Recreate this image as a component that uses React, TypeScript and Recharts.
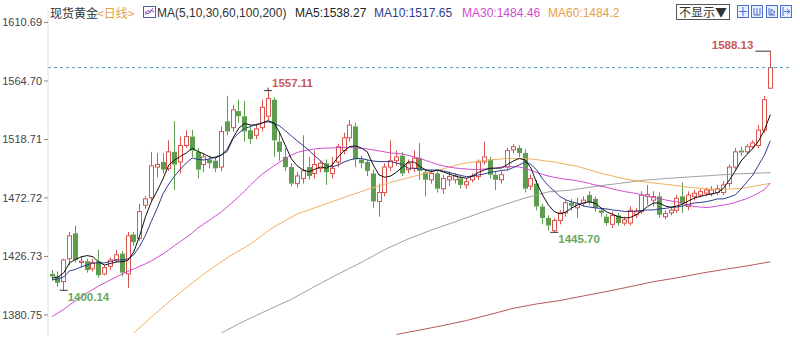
import React from "react";
import { ComposedChart, Bar, Line, XAxis, YAxis, ReferenceLine, ReferenceDot } from "recharts";

// 日线 K 线
const OPEN = [
  1413, 1411, 1407, 1425, 1445, 1422, 1423, 1417, 1423, 1413, 1419, 1424, 1429, 1413, 1444, 1441, 1467, 1473, 1497, 1501,
  1496, 1509, 1501, 1514, 1521, 1509, 1499, 1503, 1502, 1497, 1533, 1528, 1541, 1537, 1526, 1522, 1528, 1537, 1550, 1517,
  1505, 1497, 1484, 1488, 1497, 1492, 1496, 1500, 1492, 1501, 1510, 1520, 1529, 1503, 1501, 1492, 1470, 1477, 1497, 1502,
  1506, 1495, 1496, 1504, 1493, 1487, 1492, 1480, 1487, 1487, 1488, 1483, 1487, 1489.5, 1501, 1503, 1491, 1487, 1497, 1510.5,
  1512, 1508, 1482, 1484, 1466, 1457, 1447, 1455, 1461, 1469, 1465, 1468.5, 1475, 1472, 1463, 1458, 1452, 1459, 1453, 1453,
  1459.5, 1462, 1474, 1471, 1474, 1458, 1461, 1463, 1474, 1466, 1474, 1475, 1476.5, 1476, 1477, 1477, 1484, 1497, 1510, 1509,
  1513, 1514, 1526, 1559,
];
const HIGH = [
  1416, 1415, 1425, 1446, 1451, 1427, 1425, 1425, 1432, 1420, 1426, 1432, 1431, 1446, 1446, 1468, 1474, 1509, 1508, 1508,
  1518, 1533, 1521, 1526, 1526, 1512, 1508, 1506, 1505, 1529, 1553, 1546, 1550, 1549, 1530, 1531, 1550, 1557.11, 1552, 1525,
  1512, 1500, 1493, 1522, 1505, 1510, 1502, 1503, 1505, 1515, 1524, 1534, 1532, 1506, 1503, 1495, 1484, 1500, 1518, 1510,
  1509, 1503, 1510, 1516, 1495, 1495, 1494, 1491, 1493.5, 1492, 1490, 1488, 1492, 1503, 1517, 1505, 1493, 1494, 1512, 1515,
  1514, 1511, 1491, 1487, 1468, 1459, 1457, 1463, 1471, 1472, 1473, 1474, 1478, 1474, 1465, 1460, 1462, 1461, 1458, 1466,
  1465, 1478, 1483, 1478, 1477, 1463, 1466, 1475, 1485, 1478, 1479, 1480, 1481, 1482, 1483, 1486, 1499, 1512, 1513, 1515,
  1518, 1530, 1553, 1588.13,
];
const LOW = [
  1408, 1403, 1400.14, 1420, 1422, 1418, 1414, 1415, 1410, 1412, 1416, 1422, 1411, 1402, 1435, 1439, 1464, 1470, 1489, 1492,
  1494, 1479, 1492, 1512, 1505, 1488, 1493, 1496, 1493, 1494, 1522, 1525, 1532, 1517, 1515, 1519, 1525, 1534, 1505, 1502,
  1494, 1482, 1481, 1484, 1487, 1488, 1493, 1483, 1488, 1497, 1507, 1517, 1497, 1496, 1490, 1465, 1458, 1474, 1494, 1498,
  1490, 1492, 1493, 1487, 1474, 1484, 1477, 1476, 1482, 1484, 1480, 1480, 1485, 1487, 1499, 1488, 1479, 1484, 1495, 1508,
  1505, 1477, 1479, 1463, 1452, 1447, 1445.7, 1452, 1458, 1463, 1457, 1466, 1467, 1462, 1458, 1451, 1449, 1451, 1451, 1451,
  1457, 1460, 1467, 1466, 1457, 1456, 1459, 1461, 1461, 1463, 1471, 1473, 1474, 1474, 1475, 1475, 1481, 1495, 1506, 1507,
  1511, 1512, 1524, 1558.5,
];
const CLOSE = [
  1411, 1406, 1424, 1443, 1424, 1423, 1416, 1422, 1412, 1418, 1424, 1428, 1414, 1443, 1438, 1462, 1472, 1498, 1499, 1495,
  1509, 1499, 1514, 1521, 1510, 1495, 1505, 1500, 1496, 1525, 1525, 1542, 1537, 1525, 1519, 1527, 1544, 1551, 1518, 1509,
  1497, 1484, 1490, 1494, 1490, 1499, 1500, 1493, 1496, 1513, 1520, 1530, 1503, 1500, 1494, 1470, 1477, 1497, 1502, 1505,
  1492, 1500, 1504, 1494, 1487, 1492, 1480, 1488, 1489.5, 1490, 1483, 1485.5, 1489.5, 1501, 1505, 1491, 1487, 1491, 1510, 1513,
  1508, 1480, 1488, 1466, 1457, 1451, 1455, 1461, 1469, 1466.5, 1468, 1471, 1469, 1465, 1461, 1453, 1459, 1453, 1455.5, 1463,
  1462, 1475, 1475.5, 1473.8, 1459.5, 1460.5, 1463.3, 1472.5, 1468.5, 1475, 1476.4, 1477.7, 1479, 1479, 1480, 1483, 1497, 1509, 1508.5, 1513,
  1516, 1526, 1550, 1575.2,
];

const MA5 = [
  1409.7, 1410.6, 1413.8, 1421.7, 1424.4, 1426.4, 1427.4, 1426.6, 1422.4, 1420, 1421.2, 1422.4, 1422.6, 1423.6, 1430.3, 1442.9,
  1457.8, 1469.6, 1478.2, 1487.7, 1498.7, 1502.6, 1505.4, 1508.1, 1511.7, 1509.3, 1507.3, 1505, 1504.2, 1506.5, 1510.9,
  1519.9, 1527.7, 1531.3, 1530.1, 1530.1, 1531.7, 1533.5, 1531.7, 1523.8, 1513.6, 1503.4, 1497.9, 1494.7, 1493.4, 1495.3,
  1497.1, 1496.1, 1498.7, 1505, 1509.7, 1513.2, 1513.6, 1512, 1508.9, 1498.7, 1490.8, 1489, 1490, 1493, 1497,
  1501, 1501, 1497.5, 1494.7, 1493.4, 1494.7, 1493.2, 1491.6, 1490, 1488.9, 1488.2, 1490, 1492.8, 1494.7, 1496.1,
  1496.1, 1496.3, 1499.1, 1501.8, 1503.8, 1502.6, 1496.3, 1484.5, 1475.1, 1467.2, 1462, 1460.2, 1461.7, 1464.9, 1467.2,
  1468.8, 1469.8, 1468.6, 1464.9, 1461.7, 1459.8, 1458, 1457, 1457.4, 1459.4, 1462.5, 1466, 1468.8, 1468.8, 1466.4, 1465.4,
  1466.4, 1468, 1470.4, 1472.7, 1473.9, 1475.1, 1475.9, 1477, 1480.5, 1486.9, 1493.9, 1501.8, 1506.9, 1511.6, 1517.5, 1526.2,
  1538.27,
];
const MA10 = [
  1408.3, 1409.1, 1410.6, 1415.4, 1416.5, 1418.5, 1420.1, 1421.4, 1421.7, 1421.7, 1422.8, 1424, 1424, 1424.8, 1428, 1434.6,
  1443.3, 1454.3, 1464.5, 1475.9, 1483.7, 1490, 1495.5, 1500.2, 1504.2, 1503, 1502.6, 1503.4, 1505, 1506.5, 1509.3,
  1519.4, 1523.8, 1527.4, 1528.9, 1530.5, 1531.7, 1532.7, 1531.3, 1529.3, 1525.4, 1521.5, 1517.5, 1514, 1510.1, 1505.7,
  1501.8, 1497.9, 1497.1, 1498.7, 1501, 1502.6, 1503.8, 1503.8, 1502.6, 1501.8, 1501.3, 1501.3, 1501.3, 1500.2, 1499.1,
  1496.1, 1496.1, 1495.5, 1494.7, 1494.7, 1494.7, 1493.9, 1492.8, 1491.6, 1490.4, 1489.5, 1490, 1490.8, 1491.6, 1492.8,
  1493.6, 1494.4, 1494.7, 1496.7, 1498.7, 1501, 1499.1, 1494.7, 1487.7, 1482.2, 1478.2, 1473.8, 1471.2, 1469.6, 1468.6,
  1466.4, 1465.6, 1464.9, 1464.5, 1464.1, 1463.3, 1462.9, 1462.1, 1462.1, 1462.5, 1462.9, 1463.3, 1463.3, 1464.1, 1464.5,
  1465.3, 1465.6, 1466.4, 1467.6, 1468.8, 1469.2, 1469.8, 1470.8, 1472, 1472, 1473.5, 1475.1, 1479.8, 1485.3, 1490.8,
  1498.7, 1506.5, 1517.65,
];
const MA30 = [
  1379.4, 1382.3, 1385.1, 1388.6, 1391.8, 1394.9, 1398.1, 1400.8, 1403.6, 1405.9, 1408.3, 1410.6, 1413, 1415, 1416.9, 1418.9,
  1420.9, 1423.2, 1426, 1428.7, 1431.9, 1435.4, 1438.5, 1441.7, 1445.2, 1449.2, 1452.3, 1455.4, 1458.6, 1461.7, 1465.7,
  1469.6, 1473.9, 1478.2, 1483, 1487.3, 1491.6, 1494.7, 1497.9, 1501, 1503.8, 1506.5, 1508.5, 1509.7, 1510.5, 1511.3,
  1511.7, 1512, 1512, 1512.4, 1512.4, 1512.4, 1512, 1511.7, 1511.3, 1510.5, 1509.7, 1508.9, 1508.1, 1507.7, 1507.3,
  1506.2, 1505, 1503.9, 1502.2, 1500.6, 1499.1, 1497.9, 1497.1, 1496.3, 1495.9, 1495.5, 1495.1, 1495.1, 1495.5, 1495.9,
  1496.3, 1497.1, 1497.4, 1497.4, 1497.1, 1495.9, 1494.4, 1492.8, 1491.2, 1490, 1488.9, 1488.1, 1487.4, 1486.9, 1486.1,
  1485.3, 1484.1, 1483, 1481.9, 1481, 1479.8, 1478.8, 1477.8, 1477, 1476.3, 1475.1, 1473.9, 1473.1, 1472.3, 1471.2, 1470.4,
  1469.6, 1468.4, 1467.2, 1466, 1465.6, 1465.2, 1465.6, 1466.4, 1467.2, 1468, 1469.2, 1470.8, 1472.3, 1474.3, 1476.7, 1479.4,
  1484.46,
];
// 长周期均线，按 K 线序号取点
const MA60_AT = [14, 18, 22, 26, 30, 34, 38, 42, 46, 50, 54, 58, 62, 66, 70, 74, 78, 82, 86, 90, 94, 98, 102, 106, 110, 114, 118, 123];
const MA60 = [
  1366.6, 1383.1, 1398.6, 1413, 1425.7, 1436.6, 1450, 1460.2, 1466.6, 1473.1, 1479.4, 1485, 1489.8, 1494.4, 1499.5, 1502.2,
  1503.8, 1503.4, 1501, 1497.5, 1492.2, 1487.7, 1485, 1483, 1480.6, 1479.4, 1480.2, 1484.2,
];
const MA100_AT = [29, 33, 37, 41, 45, 49, 53, 57, 61, 65, 69, 73, 77, 81, 85, 89, 93, 97, 101, 105, 109, 113, 117, 123];
const MA100 = [
  1366.6, 1376.1, 1384.7, 1393.1, 1403.2, 1412.9, 1422.1, 1432.2, 1440.5, 1447.6, 1453.9, 1460.5, 1466.8, 1472.7, 1477.5,
  1479, 1481.8, 1484.1, 1486.5, 1488, 1489.2, 1490.4, 1491.6, 1492.6,
];
const MA200_AT = [59, 63, 67, 71, 75, 79, 83, 87, 91, 95, 99, 103, 107, 111, 115, 119, 123];
const MA200 = [
  1365.4, 1368.9, 1372.5, 1376.4, 1381.1, 1386, 1389.4, 1392.1, 1395.7, 1399.2, 1403, 1406.9, 1409.9, 1413.4, 1416.5, 1419.3,
  1422.6,
];

const Y_TICKS = [1380.75, 1426.73, 1472.72, 1518.71, 1564.7, 1610.69];
const LAST_PRICE = 1575.2;
const MARKS = [
  { i: 2, price: 1400.14, kind: "low" },
  { i: 37, price: 1557.11, kind: "high" },
  { i: 86, price: 1445.7, kind: "low" },
  { i: 123, price: 1588.13, kind: "top" },
];

const RED = "#d9534f";
const GREEN = "#5c9e4e";
const LATIN = "'Liberation Sans', Arial, sans-serif";
const CJK = "'Noto Sans CJK SC', sans-serif";

const pick = (at: number[], vals: number[], i: number) => {
  const k = at.indexOf(i);
  return k < 0 ? null : vals[k];
};

const rows = CLOSE.map((close, i) => ({
  i,
  open: OPEN[i],
  high: HIGH[i],
  low: LOW[i],
  close,
  range: [LOW[i], HIGH[i]],
  ma5: MA5[i],
  ma10: MA10[i],
  ma30: MA30[i],
  ma60: pick(MA60_AT, MA60, i),
  ma100: pick(MA100_AT, MA100, i),
  ma200: pick(MA200_AT, MA200, i),
}));

function Candle(props: any) {
  const { x, y, width, height, payload } = props;
  if (x == null || !payload) return null;
  const top = Math.min(y, y + height);
  const h = Math.abs(height);
  const { open, close, high, low } = payload;
  const k = h / (high - low || 1);
  const cx = Math.floor(x + width / 2) + 0.5;
  const yO = top + (high - open) * k;
  const yC = top + (high - close) * k;
  const up = close >= open;
  const bTop = Math.min(yO, yC);
  const bBot = Math.max(yO, yC);
  const color = up ? RED : GREEN;
  return (
    <g>
      <line x1={cx} x2={cx} y1={top} y2={bTop} stroke={color} />
      <line x1={cx} x2={cx} y1={bBot} y2={top + h} stroke={color} />
      {up ? (
        <rect x={cx - 2} y={bTop} width={4} height={Math.max(bBot - bTop, 1)} fill="#fff" stroke={color} />
      ) : (
        <rect x={cx - 2.5} y={bTop} width={5} height={Math.max(bBot - bTop, 1)} fill={color} />
      )}
    </g>
  );
}

function Mark(props: any) {
  const { cx, cy, kind, price } = props;
  if (cx == null) return null;
  const label = price.toFixed(2);
  const txt = { fontFamily: LATIN, fontSize: 11.5, fontWeight: 700 } as const;
  if (kind === "top") {
    return (
      <g>
        <line x1={cx - 15} x2={cx + 0.5} y1={cy} y2={cy} stroke="#333" />
        <text x={cx - 17} y={cy - 2} textAnchor="end" fill="#c85a5a" style={txt}>{label}</text>
      </g>
    );
  }
  if (kind === "high") {
    return (
      <g>
        <line x1={cx - 4} x2={cx + 4} y1={cy} y2={cy} stroke="#333" />
        <line x1={cx} x2={cx} y1={cy - 3} y2={cy} stroke="#333" />
        <text x={cx + 4} y={cy - 4} fill="#c85a5a" style={txt}>{label}</text>
      </g>
    );
  }
  return (
    <g>
      <line x1={cx - 4} x2={cx + 4} y1={cy} y2={cy} stroke="#333" />
      <text x={cx + 4} y={cy + 11} fill="#6aa85e" style={txt}>{label}</text>
    </g>
  );
}

function Header() {
  const base: React.CSSProperties = { position: "absolute", top: 5, fontSize: 12, lineHeight: "16px", whiteSpace: "nowrap" };
  const icon = (left: number, glyph: React.ReactNode) => (
    <svg style={{ position: "absolute", left, top: 5 }} width={12} height={13}>
      <rect x={0.5} y={0.5} width={11} height={12} fill="#e9efff" stroke="#4a6fd0" />
      {glyph}
    </svg>
  );
  return (
    <>
      <span style={{ ...base, left: 50, fontFamily: CJK, color: "#333" }}>现货黄金</span>
      <span style={{ ...base, left: 97, fontFamily: CJK, color: "#e8a040" }}>&lt;日线&gt;</span>
      <svg style={{ position: "absolute", left: 143, top: 6 }} width={13} height={12}>
        <rect x={0.5} y={0.5} width={12} height={11} fill="#fff" stroke="#5060a8" />
        <polyline points="2,9 5,4 7,7 10,2" fill="none" stroke="#d24cd2" />
        <polyline points="2,6 5,8 8,4 11,6" fill="none" stroke="#5060a8" />
      </svg>
      <span style={{ ...base, left: 157, fontFamily: LATIN, color: "#333" }}>MA(5,10,30,60,100,200)</span>
      <span style={{ ...base, left: 295, fontFamily: LATIN, color: "#222" }}>MA5:1538.27</span>
      <span style={{ ...base, left: 374, fontFamily: LATIN, color: "#2c3e8c" }}>MA10:1517.65</span>
      <span style={{ ...base, left: 462, fontFamily: LATIN, color: "#d24cd2" }}>MA30:1484.46</span>
      <span style={{ ...base, left: 548, fontFamily: LATIN, color: "#e8a040" }}>MA60:1484.2</span>
      <span
        style={{
          ...base,
          left: 676,
          top: 4,
          height: 14,
          lineHeight: "14px",
          border: "1px solid #555",
          padding: "0 2px",
          fontFamily: CJK,
          color: "#333",
        }}
      >
        不显示▼
      </span>
      {icon(737, <path d="M6 2v9M2 6.5h8" stroke="#4a6fd0" />)}
      {icon(751, <path d="M3 3v7M6 3v7M9 3v7M3 10h6" stroke="#4a6fd0" fill="none" />)}
      {icon(766, <path d="M3 3v7h6M5 4l4 3-4 3z" stroke="#4a6fd0" fill="none" />)}
      {icon(780, <path d="M3 2v9M4 6.5h6M7 4l3 2.5-3 2.5" stroke="#4a6fd0" fill="none" />)}
    </>
  );
}

export default function App() {
  return (
    <div style={{ position: "absolute", left: 0, top: 0, width: 800, height: 340, background: "#fff" }}>
      <Header />
      <ComposedChart width={800} height={340} data={rows} margin={{ top: 10, right: 10, bottom: 4, left: 0 }}>
        <XAxis dataKey="i" type="number" domain={[-0.685, 126.37]} allowDataOverflow hide />
        <YAxis
          domain={[1364.2, 1620.5]}
          allowDataOverflow
          ticks={Y_TICKS}
          tickFormatter={(v: number) => v.toFixed(2)}
          width={48}
          tickSize={4}
          axisLine={{ stroke: "#e2e2e2" }}
          tickLine={{ stroke: "#888" }}
          tick={{ fontSize: 11, fill: "#444", fontFamily: LATIN }}
        />
        <ReferenceLine y={LAST_PRICE} stroke="#4d9bb8" strokeDasharray="3 3" />
        <Line dataKey="ma200" stroke="#b85a5a" dot={false} strokeWidth={1} connectNulls isAnimationActive={false} />
        <Line dataKey="ma100" stroke="#a0a0a0" dot={false} strokeWidth={1} connectNulls isAnimationActive={false} />
        <Line dataKey="ma60" stroke="#f0b060" dot={false} strokeWidth={1} connectNulls isAnimationActive={false} />
        <Line dataKey="ma30" stroke="#d24cd2" dot={false} strokeWidth={1} isAnimationActive={false} />
        <Bar dataKey="range" barSize={4} shape={<Candle />} isAnimationActive={false} />
        <Line dataKey="ma10" stroke="#2c3e8c" dot={false} strokeWidth={1} isAnimationActive={false} />
        <Line dataKey="ma5" stroke="#111" dot={false} strokeWidth={1} isAnimationActive={false} />
        {MARKS.map((m) => (
          <ReferenceDot
            key={m.i}
            x={m.i}
            y={m.price}
            r={0}
            shape={(p: any) => <Mark {...p} kind={m.kind} price={m.price} />}
          />
        ))}
      </ComposedChart>
    </div>
  );
}
